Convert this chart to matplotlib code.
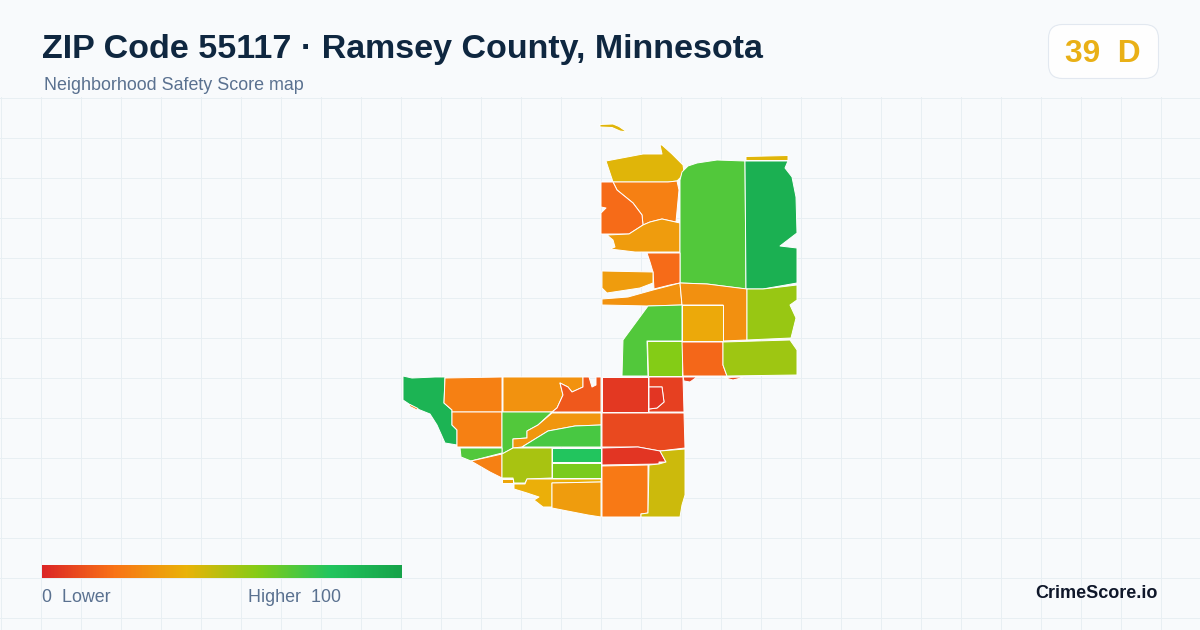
#!/usr/bin/env python
import numpy as np
import matplotlib
matplotlib.use("Agg")
import matplotlib.pyplot as plt
from matplotlib.colors import LinearSegmentedColormap
from matplotlib.patches import FancyBboxPatch, Polygon

plt.rcParams['font.family'] = ['Liberation Sans', 'DejaVu Sans']

# text of the card
titulo = "ZIP Code 55117 · Ramsey County, Minnesota"
subtitulo = "Neighborhood Safety Score map"
score_zip = "39  D"
marca = "CrimeScore.io"
etiqueta_baja = "0  Lower"
etiqueta_alta = "Higher  100"

# colour scale of the legend
stops = [0.0, 0.2, 0.4, 0.6, 0.8, 1.0]
stop_colors = ["#dc2626", "#f97316", "#eab308", "#84cc16", "#22c55e", "#16a34a"]

# score of every tract, estimated from its colour
scores = [42, 42, 42, 24, 18, 33, 70, 92, 18, 33, 30, 29, 37, 56, 70, 60, 17, 55, 8, 9,
          90, 24, 24, 24, 30, 13, 70, 31, 72, 70, 24, 53, 80, 62, 36, 39, 33,
          5, 7, 4, 9, 4, 22, 46]

# outlines of the tracts
tracts = [
    [(600, 124.5), (613, 124), (619, 126.5), (627, 132), (620, 131), (612, 127.5), (600, 127)],
    [(606, 161), (643, 154), (662, 154), (660, 145), (662, 145), (672, 154), (683, 165), (684, 172), (680, 178),
     (677, 181), (668, 182), (643, 182), (613, 182)],
    [(746, 156.5), (788, 155.5), (788, 160.5), (746, 160.5)],
    [(613, 182), (643, 182), (668, 182), (677, 181), (679, 190), (676, 222), (662, 219), (650, 222),
     (643, 225), (642, 215), (633, 203), (617, 190)],
    [(601, 182), (613, 182), (617, 190), (633, 203), (642, 215), (643, 225), (629, 234), (601, 234),
     (601, 213), (606, 208), (601, 207)],
    [(607, 235), (629, 234), (643, 225), (650, 222), (662, 219), (680, 223), (680, 252), (647, 252),
     (635, 252), (610, 249), (615, 247), (613, 240)],
    [(680, 180), (682, 172), (688, 166), (697, 163), (717, 160), (745, 161), (746, 289), (707, 284), (680, 283)],
    [(745, 161), (788, 161), (785, 168), (792, 177), (796, 197), (797, 233), (780, 246), (797, 248),
     (797, 283), (763, 289), (746, 289)],
    [(647, 253), (680, 253), (680, 283), (670, 285), (654, 289), (653, 272), (650, 262)],
    [(602, 271), (653, 272), (653, 283), (640, 288), (607, 293), (602, 288)],
    [(602, 299), (628, 297), (653, 290), (680, 283), (682, 305), (648, 306), (602, 305)],
    [(680, 283), (707, 284), (747, 289), (747, 340), (723, 341), (723, 305), (682, 305)],
    [(682, 305), (723, 305), (723, 341), (682, 341)],
    [(747, 289), (763, 289), (797, 285), (797, 300), (790, 305), (796, 318), (791, 338), (747, 340)],
    [(648, 306), (682, 305), (682, 341), (647, 341), (648, 376), (622, 376), (623, 340)],
    [(647, 341), (682, 341), (682, 376), (648, 376)],
    [(682, 342), (723, 342), (723, 365), (727, 376), (683, 376)],
    [(723, 342), (790, 340), (797, 350), (797, 375), (727, 376), (723, 365)],
    [(683, 377), (697, 377), (690, 382), (684, 381)],
    [(724, 377.5), (745, 377), (733, 380)],
    [(403, 376), (412, 378), (435, 377), (445, 377), (444, 403), (452, 410), (452, 425), (457, 430),
     (457, 445), (445, 443), (437, 425), (430, 414), (415, 408), (403, 400)],
    [(410, 404.5), (418, 408.5), (417, 410), (409, 406)],
    [(445, 378), (502, 377), (502, 412), (452, 412), (452, 410), (444, 403)],
    [(452, 412), (502, 412), (502, 447), (457, 447), (457, 430), (452, 425)],
    [(503, 377), (583, 377), (583, 387), (572, 392), (568, 387), (560, 383), (563, 395), (557, 408),
     (552, 412), (503, 412)],
    [(560, 383), (568, 387), (572, 392), (583, 387), (583, 377), (589, 377), (592, 387), (596, 385),
     (596, 377), (601, 377), (601, 412), (552, 412), (557, 408), (563, 395)],
    [(502, 412), (552, 412), (538, 425), (527, 431), (527, 438), (513, 439), (513, 448), (502, 454)],
    [(552, 413), (601, 413), (601, 425), (575, 426), (548, 431), (522, 447), (513, 448), (513, 439),
     (527, 438), (527, 431), (538, 425)],
    [(548, 431), (575, 426), (601, 425), (601, 447), (522, 447)],
    [(460, 448), (502, 448), (502, 453), (471, 461), (461, 457)],
    [(471, 461), (502, 454), (502, 478), (490, 472)],
    [(502, 454), (513, 448), (552, 448), (552, 478), (527, 479), (525, 483), (514, 483), (513, 478), (502, 478)],
    [(552, 448), (601, 448), (601, 462), (552, 462)],
    [(552, 463), (601, 463), (601, 478), (552, 478)],
    [(502, 479), (513, 479), (513, 483), (502, 483)],
    [(514, 484), (525, 484), (527, 479), (601, 479), (601, 482), (552, 483), (552, 507), (543, 507),
     (534, 500), (539, 497), (527, 493), (514, 489)],
    [(552, 483), (601, 482), (601, 517), (588, 515), (552, 508)],
    [(602, 377), (648, 377), (648, 412), (602, 412)],
    [(649, 377), (683, 377), (684, 412), (649, 412), (649, 409), (657, 408), (664, 402), (662, 387), (649, 387)],
    [(649, 387), (662, 387), (664, 402), (657, 408), (649, 409)],
    [(602, 413), (684, 413), (685, 448), (660, 451), (638, 447), (602, 447)],
    [(602, 448), (638, 447), (660, 451), (666, 462), (659, 462), (659, 464), (602, 465)],
    [(602, 466), (648, 465), (648, 513), (641, 514), (641, 517), (602, 517)],
    [(649, 465), (659, 464), (666, 462), (660, 451), (685, 449), (685, 495), (682, 505), (680, 517),
     (641, 517), (641, 514), (648, 513)],
]

# grid of the background
grid_x = np.arange(0, 1200, 40)
grid_y = np.arange(97, 630, 40)

cmap = LinearSegmentedColormap.from_list("score", list(zip(stops, stop_colors)))

fig = plt.figure(figsize=(12, 6.3), dpi=100, facecolor="#f8fafc")
ax = fig.add_axes([0, 0, 1, 1])
ax.set_facecolor("#f8fafc")

for x in grid_x:
    ax.plot([x + 0.5, x + 0.5], [97, 630], color="#e8eff3", lw=0.72, zorder=1)
for y in grid_y:
    ax.plot([0, 1200], [y + 0.5, y + 0.5], color="#e8eff3", lw=0.72, zorder=1)

for tract, score in zip(tracts, scores):
    ax.add_patch(Polygon(tract, closed=True, facecolor=cmap(score / 100), edgecolor="white",
                         lw=0.7, joinstyle="round", zorder=2))

# titles
ax.text(42, 49.5, titulo, fontsize=24.5, fontweight="bold", color="#0f2740", va="center", ha="left")
ax.text(44, 86, subtitulo, fontsize=12.9, color="#5a7190", va="center", ha="left")

# score badge
ax.add_patch(FancyBboxPatch((1048.5, 24.5), 110, 54, boxstyle="round,pad=0,rounding_size=14",
                            facecolor="#fefefe", edgecolor="#e2e8f0", lw=0.8, zorder=3))
ax.text(1065, 53.5, score_zip, fontsize=22.8, fontweight="bold", color="#e9b016", va="center", ha="left", zorder=4)

# legend
gradient = np.linspace(0, 1, 360).reshape(1, -1)
ax.imshow(gradient, cmap=cmap, extent=(42, 402, 578, 565), aspect="auto", zorder=3)
ax.text(42, 597.5, etiqueta_baja, fontsize=12.9, color="#5a7190", va="center", ha="left")
ax.text(341, 597.5, etiqueta_alta, fontsize=12.9, color="#5a7190", va="center", ha="right")
ax.text(1158, 594, marca, fontsize=13, fontweight="bold", color="#0f172a", va="center", ha="right")

ax.set_xlim(0, 1200)
ax.set_ylim(630, 0)
ax.axis("off")

fig.savefig("out.png", dpi=100, facecolor=fig.get_facecolor())
